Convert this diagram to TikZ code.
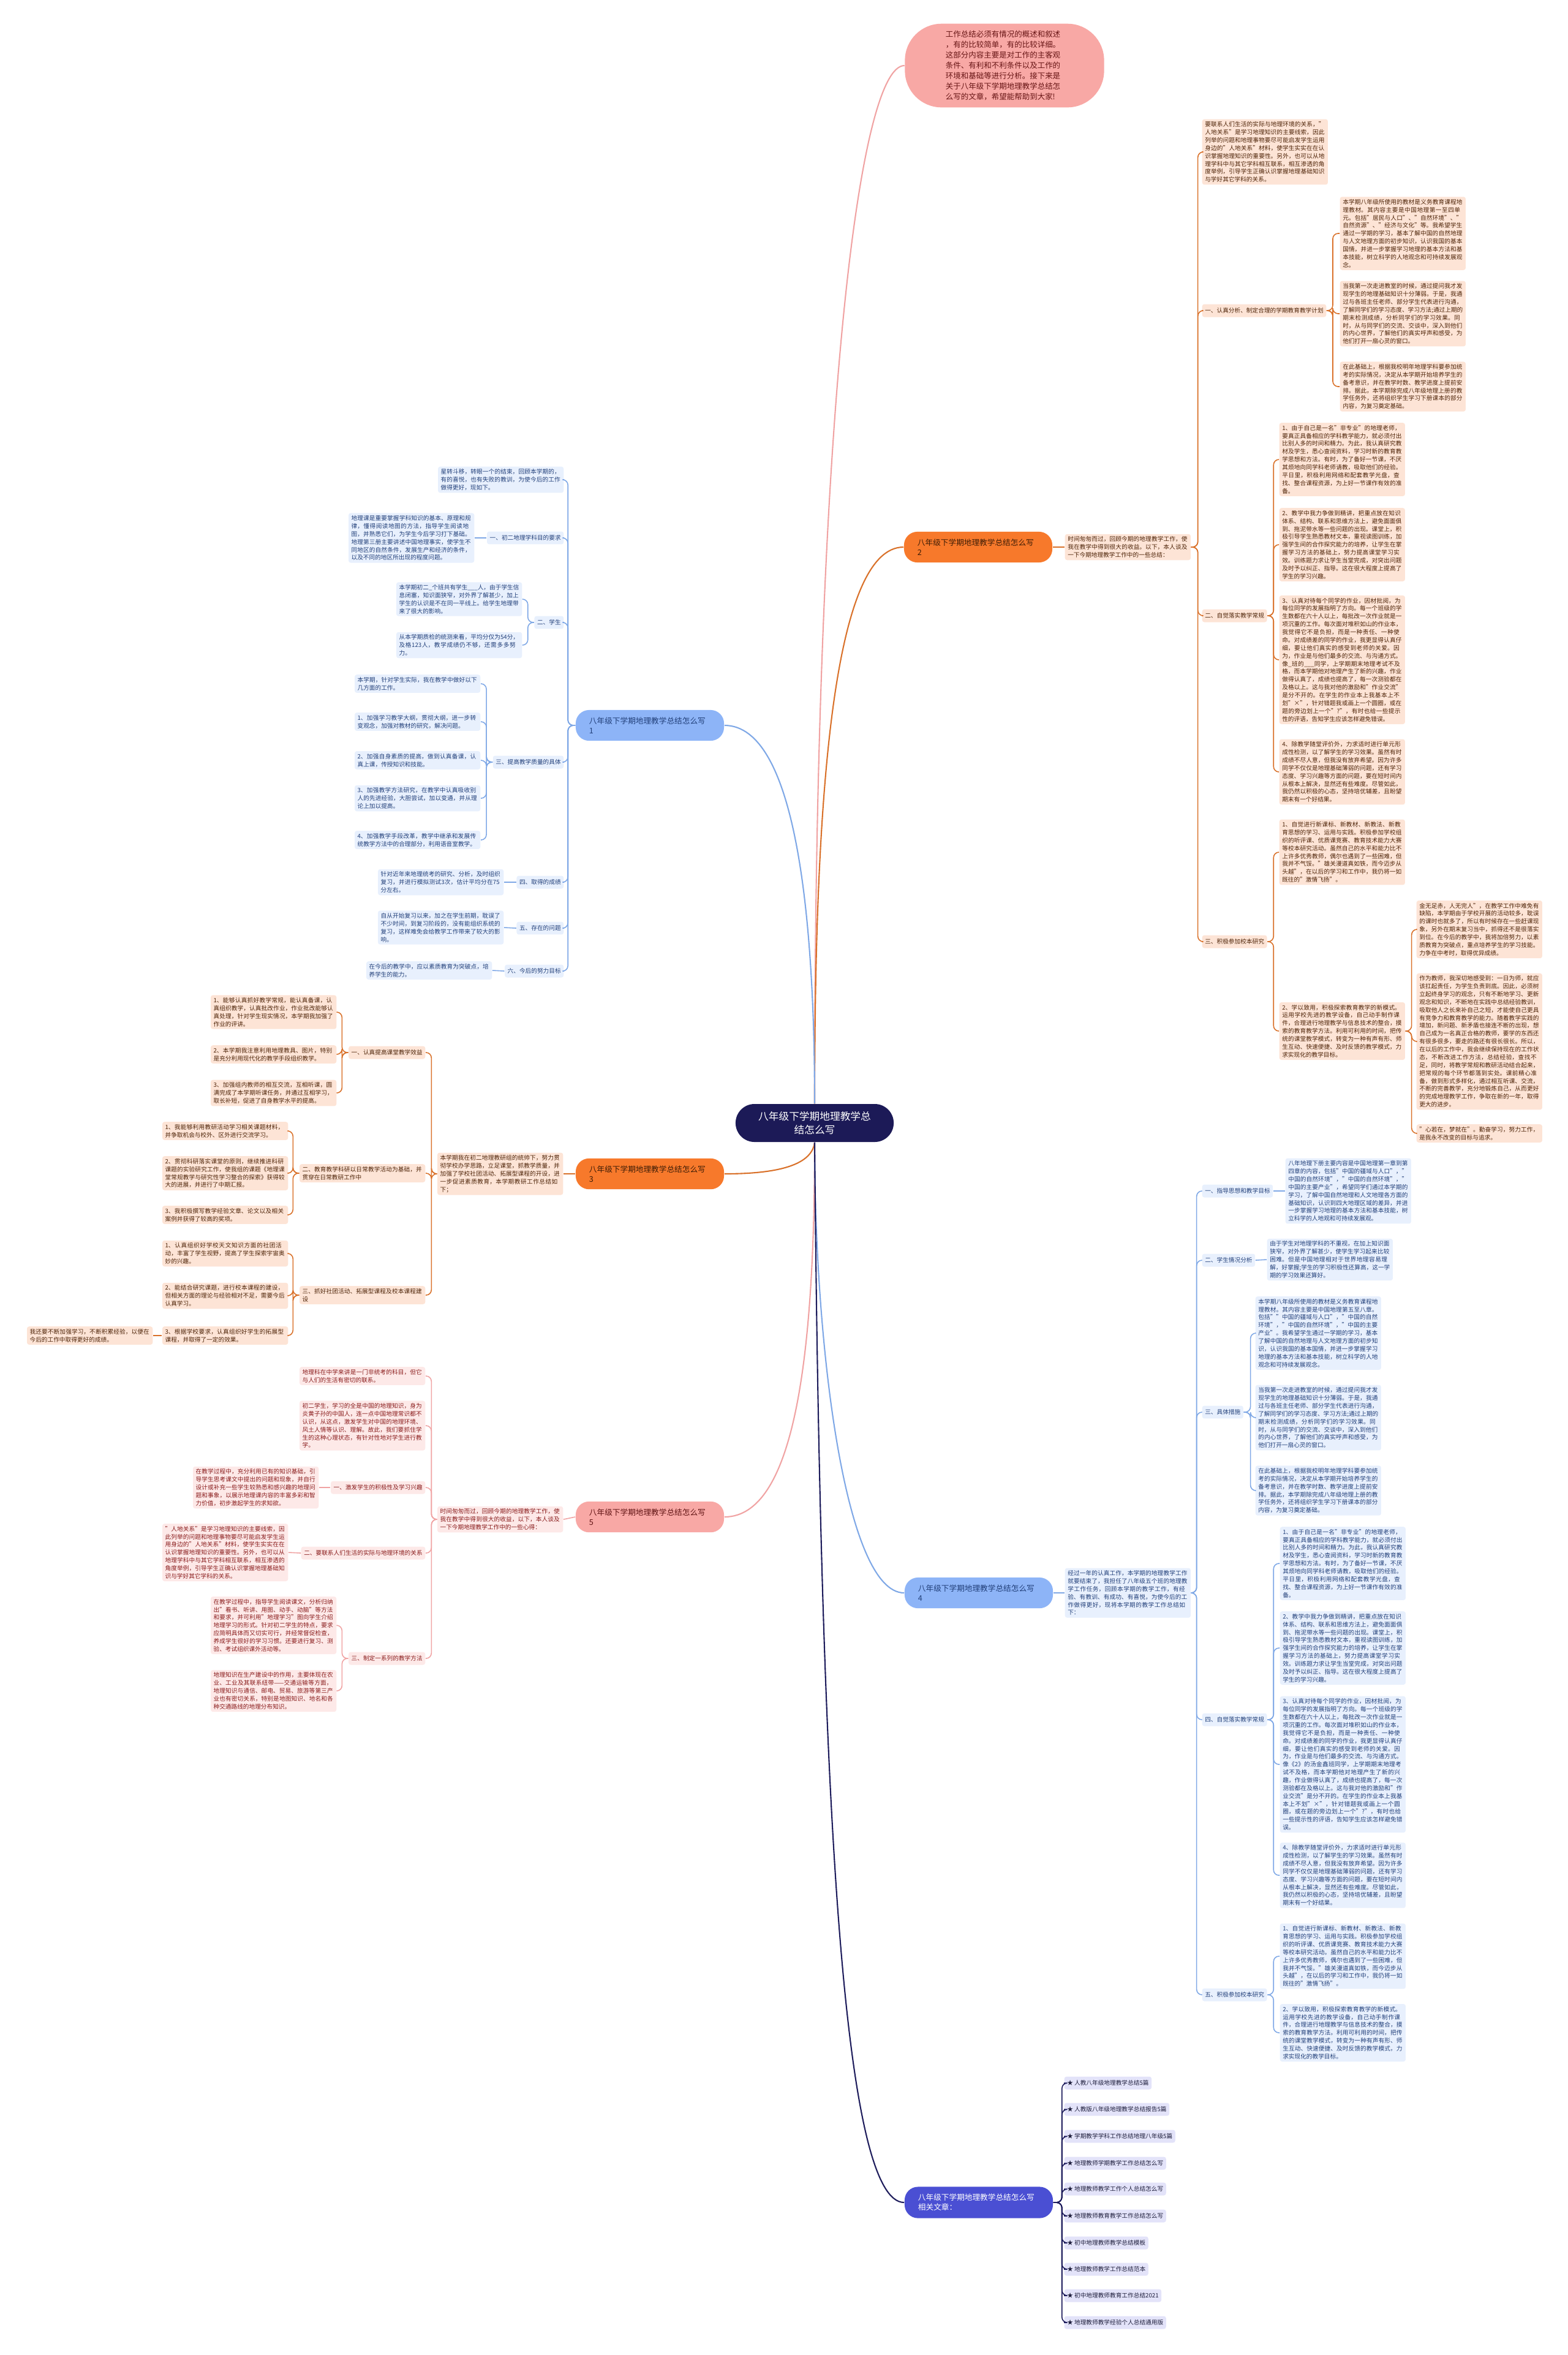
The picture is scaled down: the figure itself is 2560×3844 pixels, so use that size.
\documentclass[tikz,border=0pt]{standalone}
\usepackage{fontspec}
\setmainfont{Noto Sans CJK SC}
\XeTeXlinebreaklocale "zh"
\XeTeXlinebreakskip = 0pt plus 0.6pt
\usepackage{xcolor}
\usepackage{tikz}
\usetikzlibrary{positioning,backgrounds}

\definecolor{rootnavy}{HTML}{1C1A57}
\definecolor{bluebr}{HTML}{8DB4F7}
\definecolor{blueleaf}{HTML}{E8F0FD}
\definecolor{bluetxt}{HTML}{22407A}
\definecolor{blueline}{HTML}{7FA8E6}
\definecolor{orangebr}{HTML}{F7792B}
\definecolor{orangeleaf}{HTML}{FDE4D6}
\definecolor{orangetxt}{HTML}{4E2408}
\definecolor{orangeline}{HTML}{D9712A}
\definecolor{pinkbr}{HTML}{F8A8A5}
\definecolor{pinkleaf}{HTML}{FDE9E8}
\definecolor{pinktxt}{HTML}{8A1C1C}
\definecolor{pinkline}{HTML}{F0A3A3}
\definecolor{violetbr}{HTML}{4A4FD3}
\definecolor{violetleaf}{HTML}{E3E3F9}
\definecolor{violettxt}{HTML}{1E1E3C}
\definecolor{violetline}{HTML}{1E1D5C}

\newcommand{\leaffont}{\fontsize{2.75pt}{3.66pt}\selectfont}
\newcommand{\branchfont}{\fontsize{3.6pt}{4.55pt}\selectfont}
\newcommand{\rootfont}{\fontsize{4.75pt}{6.26pt}\selectfont}
\newcommand{\introfont}{\fontsize{3.55pt}{4.8pt}\selectfont}

\begin{document}
\begin{tikzpicture}[
    x=0.01cm, y=-0.01cm,
    box/.style={rounded corners=1pt, inner xsep=1.3pt, inner ysep=1.1pt, align=left, font=\leaffont},
    para/.style={text width=1.96cm},
    tag/.style={inner ysep=1.7pt},
    bleaf/.style={box, fill=blueleaf, text=bluetxt},
    oleaf/.style={box, fill=orangeleaf, text=orangetxt},
    pleaf/.style={box, fill=pinkleaf, text=pinktxt},
    vleaf/.style={box, fill=violetleaf, text=violettxt},
    branch/.style={rounded corners=6.2pt, minimum width=2.42cm, minimum height=0.44cm, text width=1.98cm, inner xsep=0.22cm, align=left, font=\branchfont},
    bline/.style={draw=blueline, line width=0.45pt, rounded corners=2.5pt},
    oline/.style={draw=orangeline, line width=0.45pt, rounded corners=2.5pt},
    pline/.style={draw=pinkline, line width=0.45pt, rounded corners=2.5pt},
    vline/.style={draw=violetline, line width=0.45pt, rounded corners=2.5pt},
    main/.style={line width=0.6pt}
]
    \useasboundingbox (0,0) rectangle (2560,3844);

    % Centro
    \node[fill=rootnavy, text=white, rounded corners=8.8pt, minimum width=2.58cm, minimum height=0.62cm, align=center, font=\rootfont] (root) at (1330,1833) {八年级下学期地理教学总\\结怎么写};

    % Introduccion
    \node[fill=pinkbr, text=pinktxt!75!black, rounded corners=17pt, minimum width=3.25cm, minimum height=1.30cm, text width=1.92cm, align=left, font=\introfont] (intro) at (1640,107) {工作总结必须有情况的概述和叙述\\，有的比较简单，有的比较详细。\\这部分内容主要是对工作的主客观\\条件、有利和不利条件以及工作的\\环境和基础等进行分析。接下来是\\关于八年级下学期地理教学总结怎\\么写的文章，希望能帮助到大家!};

    % Ramas
    \node[branch, fill=bluebr, text=bluetxt] (b1) at (1061,1184) {八年级下学期地理教学总结怎么写\\1};
    \node[branch, fill=orangebr, text=orangetxt!80!black] (b2) at (1597,893) {八年级下学期地理教学总结怎么写\\2};
    \node[branch, fill=orangebr, text=orangetxt!80!black] (b3) at (1061,1916) {八年级下学期地理教学总结怎么写\\3};
    \node[branch, fill=bluebr, text=bluetxt] (b4) at (1598,2600) {八年级下学期地理教学总结怎么写\\4};
    \node[branch, fill=pinkbr, text=pinktxt!70!black] (b5) at (1061,2476) {八年级下学期地理教学总结怎么写\\5};
    \node[branch, fill=violetbr, text=white] (b6) at (1598,3595) {八年级下学期地理教学总结怎么写\\相关文章：};

    % Rama 1
    \node[bleaf, para, anchor=east] (b1a) at (921,783) {星转斗移，转眼一个的结束，回顾本学期的，有的喜悦，也有失败的教训，为使今后的工作做得更好，现如下。};
    \node[bleaf, tag, anchor=east] (b1s1) at (921,878) {一、初二地理学科目的要求};
    \node[bleaf, para, anchor=east] (b1s1a) at (775,878) {地理课是重要掌握学科知识的基本、原理和规律，懂得阅读地图的方法，指导学生阅读地图，并熟悉它们，为学生今后学习打下基础。地理第三册主要讲述中国地理事实，使学生不同地区的自然条件，发展生产和经济的条件，以及不同的地区所出现的程度问题。};
    \node[bleaf, tag, anchor=east] (b1s2) at (921,1016) {二、学生};
    \node[bleaf, para, anchor=east] (b1s2a) at (853,978) {本学期初二\_个班共有学生\_\_\_人，由于学生信息闭塞，知识面狭窄，对外界了解甚少，加上学生的认识是不在同一平线上。给学生地理带来了很大的影响。};
    \node[bleaf, para, anchor=east] (b1s2b) at (853,1053) {从本学期质检的统测来看，平均分仅为54分，及格123人，教学成绩仍不够，还需多多努力。};
    \node[bleaf, tag, anchor=east] (b1s3) at (921,1244) {三、提高教学质量的具体};
    \node[bleaf, para, anchor=east] (b1s3a) at (785,1116) {本学期，针对学生实际，我在教学中做好以下几方面的工作。};
    \node[bleaf, para, anchor=east] (b1s3b) at (785,1178) {1、加强学习教学大纲，贯彻大纲，进一步转变观念，加强对教材的研究，解决问题。};
    \node[bleaf, para, anchor=east] (b1s3c) at (785,1241) {2、加强自身素质的提高，做到认真备课，认真上课，传授知识和技能。};
    \node[bleaf, para, anchor=east] (b1s3d) at (785,1303) {3、加强教学方法研究，在教学中认真吸收别人的先进经验，大胆尝试，加以变通，并从理论上加以提高。};
    \node[bleaf, para, anchor=east] (b1s3e) at (785,1371) {4、加强教学手段改革，教学中继承和发展传统教学方法中的合理部分，利用语音室教学。};
    \node[bleaf, tag, anchor=east] (b1s4) at (921,1440) {四、取得的成绩};
    \node[bleaf, para, anchor=east] (b1s4a) at (823,1440) {针对近年来地理统考的研究、分析，及时组织复习，并进行模拟测试3次，估计平均分在75分左右。};
    \node[bleaf, tag, anchor=east] (b1s5) at (921,1515) {五、存在的问题};
    \node[bleaf, para, anchor=east] (b1s5a) at (823,1514) {自从开始复习以来，加之在学生前期，耽误了不少时间，到复习阶段的，没有能组织系统的复习，这样难免会给教学工作带来了较大的影响。};
    \node[bleaf, tag, anchor=east] (b1s6) at (921,1585) {六、今后的努力目标};
    \node[bleaf, para, anchor=east] (b1s6a) at (804,1584) {在今后的教学中，应以素质教育为突破点，培养学生的能力。};

    % Rama 2
    \node[oleaf, para, anchor=west] (b2i) at (1738,893) {时间匆匆而过，回顾今期的地理教学工作，使我在教学中得到很大的收益。以下，本人谈及一下今期地理教学工作中的一些总结：};
    \node[oleaf, para, anchor=west] (b2a) at (1962,248) {要联系人们生活的实际与地理环境的关系，"人地关系"是学习地理知识的主要线索，因此列举的问题和地理事物要尽可能启发学生运用身边的"人地关系"材料，使学生实实在在认识掌握地理知识的重要性。另外，也可以从地理学科中与其它学科相互联系，相互渗透的角度举例，引导学生正确认识掌握地理基础知识与学好其它学科的关系。};
    \node[oleaf, tag, anchor=west] (b2s1) at (1962,507) {一、认真分析、制定合理的学期教育教学计划};
    \node[oleaf, para, anchor=west] (b2s1a) at (2187,381) {本学期八年级所使用的教材是义务教育课程地理教材。其内容主要是中国地理第一至四单元。包括"居民与人口"、"自然环境"、"自然资源"、"经济与文化"等。我希望学生通过一学期的学习，基本了解中国的自然地理与人文地理方面的初步知识，认识我国的基本国情，并进一步掌握学习地理的基本方法和基本技能，树立科学的人地观念和可持续发展观念。};
    \node[oleaf, para, anchor=west] (b2s1b) at (2187,512) {当我第一次走进教室的时候，通过提问我才发现学生的地理基础知识十分薄弱。于是，我通过与各班主任老师、部分学生代表进行沟通，了解同学们的学习态度、学习方法;通过上期的期末检测成绩，分析同学们的学习效果。同时，从与同学们的交流、交谈中，深入到他们的内心世界，了解他们的真实呼声和感受，为他们打开一扇心灵的窗口。};
    \node[oleaf, para, anchor=west] (b2s1c) at (2187,631) {在此基础上，根据我校明年地理学科要参加统考的实际情况，决定从本学期开始培养学生的备考意识，并在教学时数、教学进度上提前安排。据此，本学期除完成八年级地理上册的教学任务外，还将组织学生学习下册课本的部分内容，为复习奠定基础。};
    \node[oleaf, tag, anchor=west] (b2s2) at (1962,1005) {二、自觉落实教学常规};
    \node[oleaf, para, anchor=west] (b2s2a) at (2088,750) {1、由于自己是一名"非专业"的地理老师，要真正具备相应的学科教学能力，就必须付出比别人多的时间和精力。为此，我认真研究教材及学生，悉心查阅资料，学习时新的教育教学思想和方法。有时，为了备好一节课，不厌其烦地向同学科老师请教，吸取他们的经验。平日里，积极利用网络和配套教学光盘，查找、整合课程资源，为上好一节课作有效的准备。};
    \node[oleaf, para, anchor=west] (b2s2b) at (2088,889) {2、教学中我力争做到精讲，把重点放在知识体系、结构、联系和思维方法上，避免面面俱到、拖泥带水等一些问题的出现。课堂上，积极引导学生熟悉教材文本，重视读图训练，加强学生间的合作探究能力的培养，让学生在掌握学习方法的基础上，努力提高课堂学习实效。训练题力求让学生当堂完成，对突出问题及时予以纠正、指导。这在很大程度上提高了学生的学习兴趣。};
    \node[oleaf, para, anchor=west] (b2s2c) at (2088,1077) {3、认真对待每个同学的作业，因材批阅，为每位同学的发展指明了方向。每一个班级的学生数都在六十人以上，每批改一次作业就是一项沉重的工作。每次面对堆积如山的作业本，我觉得它不是负担，而是一种责任、一种使命。对成绩差的同学的作业，我更显得认真仔细，要让他们真实的感受到老师的关爱。因为，作业是与他们最多的交流、与沟通方式。像\_班的\_\_\_同学，上学期期末地理考试不及格，而本学期他对地理产生了新的兴趣，作业做得认真了，成绩也提高了，每一次测验都在及格以上。这与我对他的激励和"作业交流"是分不开的。在学生的作业本上我基本上不划"×"，针对错题我或画上一个圆圈，或在题的旁边划上一个"?"，有时也给一些提示性的评语，告知学生应该怎样避免错误。};
    \node[oleaf, para, anchor=west] (b2s2d) at (2088,1260) {4、除教学随堂评价外，力求适时进行单元形成性检测，以了解学生的学习效果。虽然有时成绩不尽人意，但我没有放弃希望。因为许多同学不仅仅是地理基础薄弱的问题，还有学习态度、学习兴趣等方面的问题，要在短时间内从根本上解决，显然还有些难度。尽管如此，我仍然以积极的心态，坚持培优辅差，且盼望期末有一个好结果。};
    \node[oleaf, tag, anchor=west] (b2s3) at (1962,1537) {三、积极参加校本研究};
    \node[oleaf, para, anchor=west] (b2s3a) at (2088,1391) {1、自觉进行新课标、新教材、新教法、新教育思想的学习、运用与实践。积极参加学校组织的听评课、优质课竞赛、教育技术能力大赛等校本研究活动。虽然自己的水平和能力比不上许多优秀教师，偶尔也遇到了一些困难，但我并不气馁。"雄关漫道真如铁，而今迈步从头越"，在以后的学习和工作中，我仍将一如既往的"激情飞扬"。};
    \node[oleaf, para, anchor=west] (b2s3b) at (2088,1683) {2、学以致用，积极探索教育教学的新模式。运用学校先进的教学设备，自己动手制作课件，合理进行地理教学与信息技术的整合，摸索的教育教学方法。利用可利用的时间，把传统的课堂教学模式，转变为一种有声有形、师生互动、快速便捷、及时反馈的教学模式，力求实现化的教学目标。};
    \node[oleaf, para, anchor=west] (b2s3b1) at (2312,1517) {金无足赤，人无完人"，在教学工作中难免有缺陷，本学期由于学校开展的活动较多，耽误的课时也就多了，所以有时候存在一些赶课现象，另外在期末复习当中，抓得还不是很落实到位。在今后的教学中，我将加倍努力，以素质教育为突破点，重点培养学生的学习技能。力争在中考时，取得优异成绩。};
    \node[oleaf, para, anchor=west] (b2s3b2) at (2312,1700) {作为教师，我深切地感受到：一日为师，就应该扛起责任，为学生负责到底。因此，必须树立起终身学习的观念，只有不断地学习、更新观念和知识，不断地在实践中总结经验教训，吸取他人之长来补自己之短，才能使自己更具有竞争力和教育教学的能力。随着教学实践的增加，新问题、新矛盾也接连不断的出现，想自己成为一名真正合格的教师，要学的东西还有很多很多，要走的路还有很长很长。所以，在以后的工作中，我会继续保持现在的工作状态，不断改进工作方法，总结经验，查找不足，同时，将教学常规和教研活动结合起来，把常规的每个环节都落到实处。课前精心准备，做到形式多样化，通过相互听课、交流，不断的完善教学，充分地锻炼自己，从而更好的完成地理教学工作，争取在新的一年，取得更大的进步。};
    \node[oleaf, para, anchor=west] (b2s3b3) at (2312,1850) {"心若在，梦就在"。勤奋学习，努力工作，是我永不改变的目标与追求。};

    % Rama 3
    \node[oleaf, para, anchor=east] (b3i) at (920,1916) {本学期我在初二地理教研组的统帅下，努力贯彻学校办学思路，立足课堂，抓教学质量，并加强了学校社团活动、拓展型课程的开设，进一步促进素质教育，本学期教研工作总结如下；};
    \node[oleaf, tag, anchor=east] (b3s1) at (695,1718) {一、认真提高课堂教学效益};
    \node[oleaf, para, anchor=east] (b3s1a) at (550,1652) {1、能够认真抓好教学常规，能认真备课，认真组织教学，认真批改作业，作业批改能够认真处理，针对学生现实情况，本学期我加强了作业的评讲。};
    \node[oleaf, para, anchor=east] (b3s1b) at (550,1721) {2、本学期我注意利用地理教具、图片，特别是充分利用现代化的教学手段组织教学。};
    \node[oleaf, para, anchor=east] (b3s1c) at (550,1784) {3、加强组内教师的相互交流，互相听课，圆满完成了本学期听课任务，并通过互相学习，取长补短，促进了自身教学水平的提高。};
    \node[oleaf, para, anchor=east] (b3s2) at (695,1915) {二、教育教学科研以日常教学活动为基础，并贯穿在日常教研工作中};
    \node[oleaf, para, anchor=east] (b3s2a) at (471,1846) {1、我能够利用教研活动学习相关课题材料，并争取机会与校外、区外进行交流学习。};
    \node[oleaf, para, anchor=east] (b3s2b) at (471,1915) {2、贯彻科研落实课堂的原则，继续推进科研课题的实验研究工作，使我组的课题《地理课堂常规教学与研究性学习整合的探索》获得较大的进展，并进行了中期汇报。};
    \node[oleaf, para, anchor=east] (b3s2c) at (471,1983) {3、我积极撰写教学经验文章、论文以及相关案例并获得了较高的奖项。};
    \node[oleaf, para, anchor=east] (b3s3) at (695,2114) {三、抓好社团活动、拓展型课程及校本课程建设};
    \node[oleaf, para, anchor=east] (b3s3a) at (471,2046) {1、认真组织好学校天文知识方面的社团活动，丰富了学生视野，提高了学生探索宇宙奥妙的兴趣。};
    \node[oleaf, para, anchor=east] (b3s3b) at (471,2115) {2、能结合研究课题，进行校本课程的建设，但相关方面的理论与经验相对不足，需要今后认真学习。};
    \node[oleaf, para, anchor=east] (b3s3c) at (471,2180) {3、根据学校要求，认真组织好学生的拓展型课程，并取得了一定的效果。};
    \node[oleaf, para, anchor=east] (b3s3c1) at (250,2180) {我还要不断加强学习，不断积累经验，以便在今后的工作中取得更好的成绩。};

    % Rama 5
    \node[pleaf, para, anchor=east] (b5i) at (920,2480) {时间匆匆而过，回顾今期的地理教学工作，使我在教学中得到很大的收益，以下，本人谈及一下今期地理教学工作中的一些心得：};
    \node[pleaf, para, anchor=east] (b5a) at (695,2246) {地理科在中学来讲是一门非统考的科目，但它与人们的生活有密切的联系。};
    \node[pleaf, para, anchor=east] (b5b) at (695,2327) {初二学生，学习的全是中国的地理知识，身为炎黄子孙的中国人，连一点中国地理常识都不认识，从这点，激发学生对中国的地理环境、风土人情等认识、理解。故此，我们要抓住学生的这种心理状态，有针对性地对学生进行教学。};
    \node[pleaf, tag, anchor=east] (b5s1) at (695,2428) {一、激发学生的积极性及学习兴趣};
    \node[pleaf, para, anchor=east] (b5s1a) at (521,2428) {在教学过程中，充分利用已有的知识基础，引导学生思考课文中提出的问题和现象，并自行设计或补充一些学生较熟悉和感兴趣的地理问题和事象，以展示地理课内容的丰富多彩和智力价值，初步激起学生的求知欲。};
    \node[pleaf, tag, anchor=east] (b5s2) at (695,2535) {二、要联系人们生活的实际与地理环境的关系};
    \node[pleaf, para, anchor=east] (b5s2a) at (471,2534) {"人地关系"是学习地理知识的主要线索，因此列举的问题和地理事物要尽可能启发学生运用身边的"人地关系"材料，使学生实实在在认识掌握地理知识的重要性。另外，也可以从地理学科中与其它学科相互联系，相互渗透的角度举例，引导学生正确认识掌握地理基础知识与学好其它学科的关系。};
    \node[pleaf, tag, anchor=east] (b5s3) at (695,2707) {三、制定一系列的教学方法};
    \node[pleaf, para, anchor=east] (b5s3a) at (550,2653) {在教学过程中，指导学生阅读课文，分析归纳出"看书、听讲、用图、动手、动脑"等方法和要求，并可利用"地理学习"图向学生介绍地理学习的形式。针对初二学生的特点，要求应简明具体而又切实可行，并经常督促检查，养成学生很好的学习习惯。还要进行复习、测验、考试组织课外活动等。};
    \node[pleaf, para, anchor=east] (b5s3b) at (550,2760) {地理知识在生产建设中的作用，主要体现在农业、工业及其联系纽带——交通运输等方面，地理知识与通信、邮电、贸易、旅游等第三产业也有密切关系，特别是地图知识、地名和各种交通路线的地理分布知识。};

    % Rama 4
    \node[bleaf, para, anchor=west] (b4i) at (1738,2600) {经过一年的认真工作，本学期的地理教学工作就要结束了，我担任了八年级五个班的地理教学工作任务，回顾本学期的教学工作，有经验、有教训、有成功、有喜悦，为使今后的工作做得更好，现将本学期的教学工作总结如下：};
    \node[bleaf, tag, anchor=west] (b4s1) at (1962,1944) {一、指导思想和教学目标};
    \node[bleaf, para, anchor=west] (b4s1a) at (2098,1944) {八年地理下册主要内容是中国地理第一章到第四章的内容，包括"中国的疆域与人口"，"中国的自然环境"，"中国的自然环境"，"中国的主要产业"，希望同学们通过本学期的学习，了解中国自然地理和人文地理各方面的基础知识，认识到四大地理区域的差异，并进一步掌握学习地理的基本方法和基本技能，树立科学的人地观和可持续发展观。};
    \node[bleaf, tag, anchor=west] (b4s2) at (1962,2057) {二、学生情况分析};
    \node[bleaf, para, anchor=west] (b4s2a) at (2068,2056) {由于学生对地理学科的不重视，在加上知识面狭窄，对外界了解甚少，使学生学习起来比较困难。但是中国地理相对于世界地理容易理解，好掌握;学生的学习积极性还算高，这一学期的学习效果还算好。};
    \node[bleaf, tag, anchor=west] (b4s3) at (1962,2305) {三、具体措施};
    \node[bleaf, para, anchor=west] (b4s3a) at (2049,2176) {本学期八年级所使用的教材是义务教育课程地理教材。其内容主要是中国地理第五至八章。包括""中国的疆域与人口"，"中国的自然环境"，"中国的自然环境"，"中国的主要产业"。我希望学生通过一学期的学习，基本了解中国的自然地理与人文地理方面的初步知识，认识我国的基本国情，并进一步掌握学习地理的基本方法和基本技能，树立科学的人地观念和可持续发展观念。};
    \node[bleaf, para, anchor=west] (b4s3b) at (2049,2314) {当我第一次走进教室的时候，通过提问我才发现学生的地理基础知识十分薄弱。于是，我通过与各班主任老师、部分学生代表进行沟通，了解同学们的学习态度、学习方法;通过上期的期末检测成绩，分析同学们的学习效果。同时，从与同学们的交流、交谈中，深入到他们的内心世界，了解他们的真实呼声和感受，为他们打开一扇心灵的窗口。};
    \node[bleaf, para, anchor=west] (b4s3c) at (2049,2433) {在此基础上，根据我校明年地理学科要参加统考的实际情况，决定从本学期开始培养学生的备考意识，并在教学时数、教学进度上提前安排。据此，本学期除完成八年级地理上册的教学任务外，还将组织学生学习下册课本的部分内容，为复习奠定基础。};
    \node[bleaf, tag, anchor=west] (b4s4) at (1962,2807) {四、自觉落实教学常规};
    \node[bleaf, para, anchor=west] (b4s4a) at (2089,2552) {1、由于自己是一名"非专业"的地理老师，要真正具备相应的学科教学能力，就必须付出比别人多的时间和精力。为此，我认真研究教材及学生，悉心查阅资料，学习时新的教育教学思想和方法。有时，为了备好一节课，不厌其烦地向同学科老师请教，吸取他们的经验。平日里，积极利用网络和配套教学光盘，查找、整合课程资源，为上好一节课作有效的准备。};
    \node[bleaf, para, anchor=west] (b4s4b) at (2089,2690) {2、教学中我力争做到精讲，把重点放在知识体系、结构、联系和思维方法上，避免面面俱到、拖泥带水等一些问题的出现。课堂上，积极引导学生熟悉教材文本，重视读图训练，加强学生间的合作探究能力的培养，让学生在掌握学习方法的基础上，努力提高课堂学习实效。训练题力求让学生当堂完成，对突出问题及时予以纠正、指导。这在很大程度上提高了学生的学习兴趣。};
    \node[bleaf, para, anchor=west] (b4s4c) at (2089,2880) {3、认真对待每个同学的作业，因材批阅，为每位同学的发展指明了方向。每一个班级的学生数都在六十人以上，每批改一次作业就是一项沉重的工作。每次面对堆积如山的作业本，我觉得它不是负担，而是一种责任、一种使命。对成绩差的同学的作业，我更显得认真仔细，要让他们真实的感受到老师的关爱。因为，作业是与他们最多的交流、与沟通方式。像《2》的汤金鑫班同学，上学期期末地理考试不及格，而本学期他对地理产生了新的兴趣，作业做得认真了，成绩也提高了，每一次测验都在及格以上。这与我对他的激励和"作业交流"是分不开的。在学生的作业本上我基本上不划"×"，针对错题我或画上一个圆圈，或在题的旁边划上一个"?"，有时也给一些提示性的评语，告知学生应该怎样避免错误。};
    \node[bleaf, para, anchor=west] (b4s4d) at (2089,3061) {4、除教学随堂评价外，力求适时进行单元形成性检测，以了解学生的学习效果。虽然有时成绩不尽人意，但我没有放弃希望。因为许多同学不仅仅是地理基础薄弱的问题，还有学习态度、学习兴趣等方面的问题，要在短时间内从根本上解决，显然还有些难度。尽管如此，我仍然以积极的心态，坚持培优辅差，且盼望期末有一个好结果。};
    \node[bleaf, tag, anchor=west] (b4s5) at (1962,3256) {五、积极参加校本研究};
    \node[bleaf, para, anchor=west] (b4s5a) at (2089,3193) {1、自觉进行新课标、新教材、新教法、新教育思想的学习、运用与实践。积极参加学校组织的听评课、优质课竞赛、教育技术能力大赛等校本研究活动。虽然自己的水平和能力比不上许多优秀教师，偶尔也遇到了一些困难，但我并不气馁。"雄关漫道真如铁，而今迈步从头越"，在以后的学习和工作中，我仍将一如既往的"激情飞扬"。};
    \node[bleaf, para, anchor=west] (b4s5b) at (2089,3318) {2、学以致用，积极探索教育教学的新模式。运用学校先进的教学设备，自己动手制作课件，合理进行地理教学与信息技术的整合，摸索的教育教学方法。利用可利用的时间，把传统的课堂教学模式，转变为一种有声有形、师生互动、快速便捷、及时反馈的教学模式，力求实现化的教学目标。};

    % Rama 6
    \node[vleaf, tag, anchor=west] (b6a) at (1737,3400) {★ 人教八年级地理教学总结5篇};
    \node[vleaf, tag, anchor=west] (b6b) at (1737,3443) {★ 人教版八年级地理教学总结报告5篇};
    \node[vleaf, tag, anchor=west] (b6c) at (1737,3487) {★ 学期教学学科工作总结地理八年级5篇};
    \node[vleaf, tag, anchor=west] (b6d) at (1737,3531) {★ 地理教师学期教学工作总结怎么写};
    \node[vleaf, tag, anchor=west] (b6e) at (1737,3573) {★ 地理教师教学工作个人总结怎么写};
    \node[vleaf, tag, anchor=west] (b6f) at (1737,3617) {★ 地理教师教育教学工作总结怎么写};
    \node[vleaf, tag, anchor=west] (b6g) at (1737,3661) {★ 初中地理教师教学总结模板};
    \node[vleaf, tag, anchor=west] (b6h) at (1737,3704) {★ 地理教师教学工作总结范本};
    \node[vleaf, tag, anchor=west] (b6i) at (1737,3747) {★ 初中地理教师教育工作总结2021};
    \node[vleaf, tag, anchor=west] (b6j) at (1737,3791) {★ 地理教师教学经验个人总结通用版};

    % Conexiones principales
    \begin{scope}[on background layer]
    \draw[main, pinkline] (root.north) .. controls (1330,700) and (1400,107) .. (intro.west);
    \draw[main, orangeline] (root.north) .. controls (1330,1300) and (1360,893) .. (b2.west);
    \draw[main, blueline] (root.north) .. controls (1330,1500) and (1300,1184) .. (b1.east);
    \draw[main, orangeline] (root.south) .. controls (1325,1905) and (1260,1916) .. (b3.east);
    \draw[main, pinkline] (root.south) .. controls (1330,2200) and (1300,2476) .. (b5.east);
    \draw[main, blueline] (root.south) .. controls (1330,2200) and (1380,2600) .. (b4.west);
    \draw[main, violetline] (root.south) .. controls (1340,3000) and (1380,3595) .. (b6.west);
    \end{scope}

    % Rama 1 conexiones
    \draw[bline] (b1.west) -- ++(-12,0) |- (b1a.east);
    \draw[bline] (b1.west) -- ++(-12,0) |- (b1s1.east);
    \draw[bline] (b1.west) -- ++(-12,0) |- (b1s2.east);
    \draw[bline] (b1.west) -- ++(-12,0) |- (b1s3.east);
    \draw[bline] (b1.west) -- ++(-12,0) |- (b1s4.east);
    \draw[bline] (b1.west) -- ++(-12,0) |- (b1s5.east);
    \draw[bline] (b1.west) -- ++(-12,0) |- (b1s6.east);
    \draw[bline] (b1s1.west) -- (b1s1a.east);
    \draw[bline] (b1s2.west) -- ++(-10,0) |- (b1s2a.east);
    \draw[bline] (b1s2.west) -- ++(-10,0) |- (b1s2b.east);
    \draw[bline] (b1s3.west) -- ++(-10,0) |- (b1s3a.east);
    \draw[bline] (b1s3.west) -- ++(-10,0) |- (b1s3b.east);
    \draw[bline] (b1s3.west) -- ++(-10,0) |- (b1s3c.east);
    \draw[bline] (b1s3.west) -- ++(-10,0) |- (b1s3d.east);
    \draw[bline] (b1s3.west) -- ++(-10,0) |- (b1s3e.east);
    \draw[bline] (b1s4.west) -- (b1s4a.east);
    \draw[bline] (b1s5.west) -- (b1s5a.east);
    \draw[bline] (b1s6.west) -- (b1s6a.east);

    % Rama 2 conexiones
    \draw[oline] (b2.east) -- (b2i.west);
    \draw[oline] (b2i.east) -- ++(11,0) |- (b2a.west);
    \draw[oline] (b2i.east) -- ++(11,0) |- (b2s1.west);
    \draw[oline] (b2i.east) -- ++(11,0) |- (b2s2.west);
    \draw[oline] (b2i.east) -- ++(11,0) |- (b2s3.west);
    \draw[oline] (b2s1.east) -- ++(10,0) |- (b2s1a.west);
    \draw[oline] (b2s1.east) -- ++(10,0) |- (b2s1b.west);
    \draw[oline] (b2s1.east) -- ++(10,0) |- (b2s1c.west);
    \draw[oline] (b2s2.east) -- ++(10,0) |- (b2s2a.west);
    \draw[oline] (b2s2.east) -- ++(10,0) |- (b2s2b.west);
    \draw[oline] (b2s2.east) -- ++(10,0) |- (b2s2c.west);
    \draw[oline] (b2s2.east) -- ++(10,0) |- (b2s2d.west);
    \draw[oline] (b2s3.east) -- ++(10,0) |- (b2s3a.west);
    \draw[oline] (b2s3.east) -- ++(10,0) |- (b2s3b.west);
    \draw[oline] (b2s3b.east) -- ++(10,0) |- (b2s3b1.west);
    \draw[oline] (b2s3b.east) -- ++(10,0) |- (b2s3b2.west);
    \draw[oline] (b2s3b.east) -- ++(10,0) |- (b2s3b3.west);

    % Rama 3 conexiones
    \draw[oline] (b3.west) -- (b3i.east);
    \draw[oline] (b3i.west) -- ++(-9,0) |- (b3s1.east);
    \draw[oline] (b3i.west) -- ++(-9,0) |- (b3s2.east);
    \draw[oline] (b3i.west) -- ++(-9,0) |- (b3s3.east);
    \draw[oline] (b3s1.west) -- ++(-10,0) |- (b3s1a.east);
    \draw[oline] (b3s1.west) -- ++(-10,0) |- (b3s1b.east);
    \draw[oline] (b3s1.west) -- ++(-10,0) |- (b3s1c.east);
    \draw[oline] (b3s2.west) -- ++(-10,0) |- (b3s2a.east);
    \draw[oline] (b3s2.west) -- ++(-10,0) |- (b3s2b.east);
    \draw[oline] (b3s2.west) -- ++(-10,0) |- (b3s2c.east);
    \draw[oline] (b3s3.west) -- ++(-10,0) |- (b3s3a.east);
    \draw[oline] (b3s3.west) -- ++(-10,0) |- (b3s3b.east);
    \draw[oline] (b3s3.west) -- ++(-10,0) |- (b3s3c.east);
    \draw[oline] (b3s3c.west) -- (b3s3c1.east);

    % Rama 5 conexiones
    \draw[pline] (b5.west) -- (b5i.east);
    \draw[pline] (b5i.west) -- ++(-9,0) |- (b5a.east);
    \draw[pline] (b5i.west) -- ++(-9,0) |- (b5b.east);
    \draw[pline] (b5i.west) -- ++(-9,0) |- (b5s1.east);
    \draw[pline] (b5i.west) -- ++(-9,0) |- (b5s2.east);
    \draw[pline] (b5i.west) -- ++(-9,0) |- (b5s3.east);
    \draw[pline] (b5s1.west) -- (b5s1a.east);
    \draw[pline] (b5s2.west) -- (b5s2a.east);
    \draw[pline] (b5s3.west) -- ++(-10,0) |- (b5s3a.east);
    \draw[pline] (b5s3.west) -- ++(-10,0) |- (b5s3b.east);

    % Rama 4 conexiones
    \draw[bline] (b4.east) -- (b4i.west);
    \draw[bline] (b4i.east) -- ++(9,0) |- (b4s1.west);
    \draw[bline] (b4i.east) -- ++(9,0) |- (b4s2.west);
    \draw[bline] (b4i.east) -- ++(9,0) |- (b4s3.west);
    \draw[bline] (b4i.east) -- ++(9,0) |- (b4s4.west);
    \draw[bline] (b4i.east) -- ++(9,0) |- (b4s5.west);
    \draw[bline] (b4s1.east) -- (b4s1a.west);
    \draw[bline] (b4s2.east) -- (b4s2a.west);
    \draw[bline] (b4s3.east) -- ++(11,0) |- (b4s3a.west);
    \draw[bline] (b4s3.east) -- ++(11,0) |- (b4s3b.west);
    \draw[bline] (b4s3.east) -- ++(11,0) |- (b4s3c.west);
    \draw[bline] (b4s4.east) -- ++(10,0) |- (b4s4a.west);
    \draw[bline] (b4s4.east) -- ++(10,0) |- (b4s4b.west);
    \draw[bline] (b4s4.east) -- ++(10,0) |- (b4s4c.west);
    \draw[bline] (b4s4.east) -- ++(10,0) |- (b4s4d.west);
    \draw[bline] (b4s5.east) -- ++(10,0) |- (b4s5a.west);
    \draw[bline] (b4s5.east) -- ++(10,0) |- (b4s5b.west);

    % Rama 6 conexiones
    \draw[vline] (b6.east) -- ++(14,0) |- (b6a.west);
    \draw[vline] (b6.east) -- ++(14,0) |- (b6b.west);
    \draw[vline] (b6.east) -- ++(14,0) |- (b6c.west);
    \draw[vline] (b6.east) -- ++(14,0) |- (b6d.west);
    \draw[vline] (b6.east) -- ++(14,0) |- (b6e.west);
    \draw[vline] (b6.east) -- ++(14,0) |- (b6f.west);
    \draw[vline] (b6.east) -- ++(14,0) |- (b6g.west);
    \draw[vline] (b6.east) -- ++(14,0) |- (b6h.west);
    \draw[vline] (b6.east) -- ++(14,0) |- (b6i.west);
    \draw[vline] (b6.east) -- ++(14,0) |- (b6j.west);

\end{tikzpicture}
\end{document}
